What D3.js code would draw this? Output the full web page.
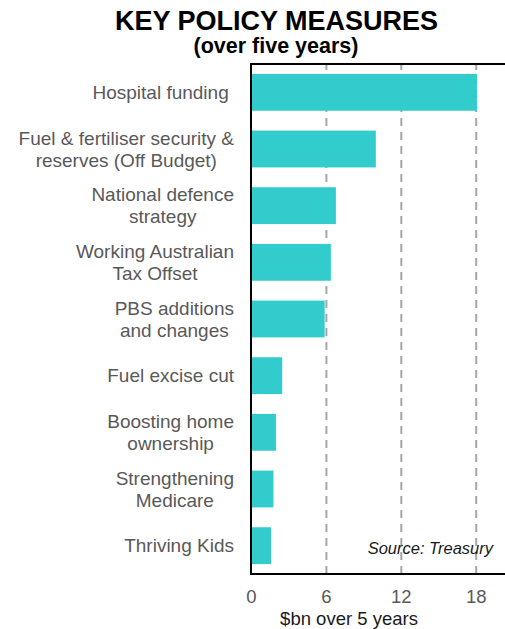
<!DOCTYPE html>
<html>
<head>
<meta charset="utf-8">
<script src="https://cdn.jsdelivr.net/npm/d3@7"></script>
<style>
  html, body { margin: 0; padding: 0; background: #fff; }
  svg { display: block; font-family: "Liberation Sans", Arial, sans-serif; }
</style>
</head>
<body>
<svg id="chart" width="505" height="629"></svg>
<script>
// Policy measures, $bn over five years
const categories = [
  "Hospital funding ",
  "Fuel & fertiliser security &\nreserves (Off Budget)",
  "National defence\nstrategy",
  "Working Australian\nTax Offset",
  "PBS additions\nand changes",
  "Fuel excise cut",
  "Boosting home\nownership",
  "Strengthening\nMedicare",
  "Thriving Kids"
];
const values = [18.1, 10.0, 6.8, 6.4, 5.9, 2.5, 2.0, 1.8, 1.6];
const tickValues = [0, 6, 12, 18];

const svg = d3.select("#chart");
const plot = { left: 251, top: 64, bottom: 574, right: 512 };

const x = d3.scaleLinear().domain([0, 18]).range([plot.left, 475.7]);
const y = d3.scaleBand()
  .domain(categories)
  .range([plot.top, plot.bottom])
  .paddingInner(0.35)
  .paddingOuter(0.175);

// Title
svg.append("text")
  .attr("x", 276.5).attr("y", 29.5)
  .attr("text-anchor", "middle")
  .attr("font-size", 27).attr("font-weight", "bold").attr("fill", "#000")
  .text("KEY POLICY MEASURES");
svg.append("text")
  .attr("x", 276).attr("y", 53)
  .attr("text-anchor", "middle")
  .attr("font-size", 21.5).attr("font-weight", "bold").attr("fill", "#000")
  .text("(over five years)");

// Dashed vertical gridlines
const grid = svg.append("g")
  .attr("transform", `translate(0,${plot.bottom})`)
  .call(d3.axisBottom(x).tickValues(tickValues.filter(d => d > 0))
    .tickSize(plot.bottom - plot.top).tickFormat(""));
grid.select(".domain").remove();
grid.selectAll(".tick line")
  .attr("y2", -(plot.bottom - plot.top))
  .attr("stroke", "#a6a6a6")
  .attr("stroke-width", 2)
  .attr("stroke-dasharray", "8,6");

// Bars
svg.append("g").selectAll("rect")
  .data(values)
  .join("rect")
  .attr("x", x(0))
  .attr("y", (d, i) => y(categories[i]))
  .attr("width", d => x(d) - x(0))
  .attr("height", y.bandwidth())
  .attr("fill", "#33cccc");

// Frame
const frame = svg.append("g").attr("stroke", "#000").attr("stroke-width", 2).attr("fill", "none");
frame.append("line").attr("x1", plot.left).attr("x2", plot.right).attr("y1", plot.top).attr("y2", plot.top);
frame.append("line").attr("x1", plot.left).attr("x2", plot.right).attr("y1", plot.bottom).attr("y2", plot.bottom);
frame.append("line").attr("x1", plot.left).attr("x2", plot.left).attr("y1", plot.top - 1).attr("y2", plot.bottom + 1);

// Category labels: each block right-aligned, lines centred within the block
const labelRight = 234;
const lineGap = 22;
categories.forEach(cat => {
  const lines = cat.split("\n");
  const g = svg.append("g");
  const cy = y(cat) + y.bandwidth() / 2;
  const texts = lines.map((ln, i) => g.append("text")
    .attr("y", cy + (i - (lines.length - 1) / 2) * lineGap)
    .attr("dy", "0.35em")
    .attr("text-anchor", "middle")
    .attr("font-size", 19)
    .attr("fill", "#595959")
    .style("white-space", "pre")
    .text(ln));
  const maxW = d3.max(texts, t => t.node().getComputedTextLength());
  texts.forEach(t => t.attr("x", labelRight - maxW / 2));
});

// X axis tick labels
const xAxis = svg.append("g")
  .attr("transform", `translate(0,${plot.bottom})`)
  .call(d3.axisBottom(x).tickValues(tickValues).tickSize(0).tickPadding(29));
xAxis.select(".domain").remove();
xAxis.selectAll("text")
  .attr("font-size", 18.5)
  .attr("font-family", "Liberation Sans, Arial, sans-serif")
  .attr("fill", "#595959")
  .attr("dy", "0");

// Axis title
svg.append("text")
  .attr("x", 349).attr("y", 625)
  .attr("text-anchor", "middle")
  .attr("font-size", 18.5).attr("fill", "#1a1a1a")
  .text("$bn over 5 years");

// Source note
svg.append("text")
  .attr("x", 493).attr("y", 554)
  .attr("text-anchor", "end")
  .attr("font-size", 16.5).attr("font-style", "italic").attr("fill", "#1a1a1a")
  .text("Source: Treasury");
</script>
</body>
</html>
